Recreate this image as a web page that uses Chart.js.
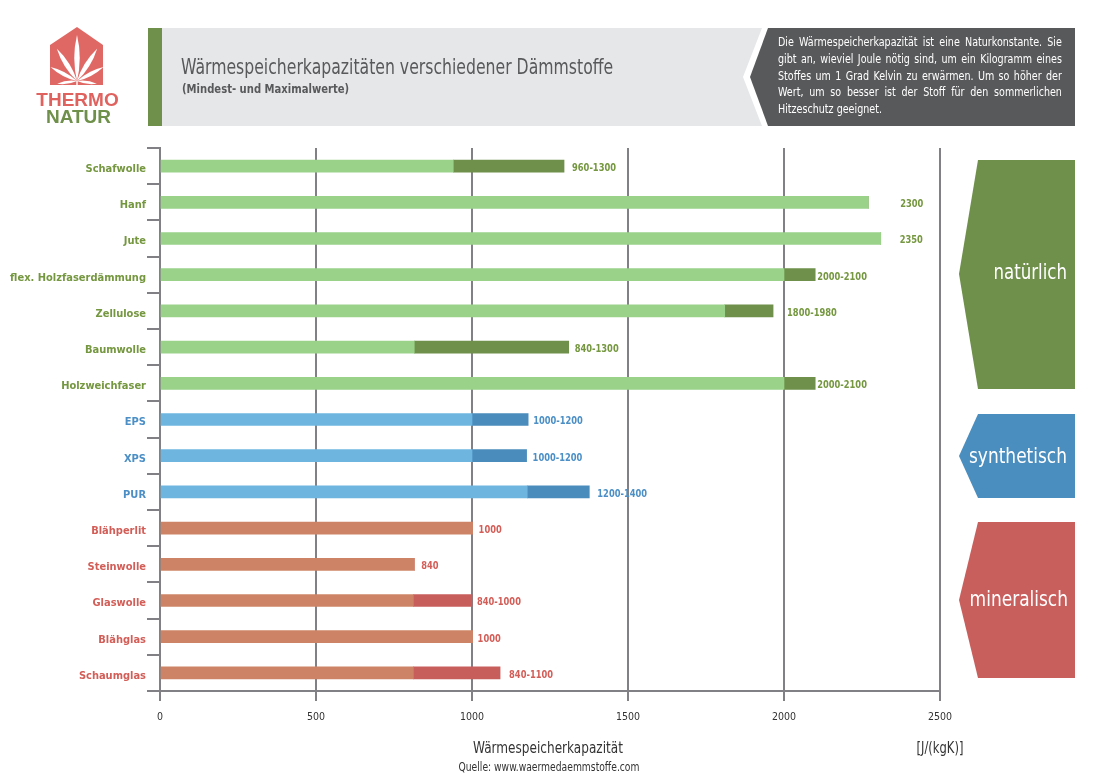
<!DOCTYPE html>
<html>
<head>
<meta charset="utf-8">
<script src="https://cdn.jsdelivr.net/npm/chart.js@4/dist/chart.umd.min.js"></script>
<style>
  html, body { margin: 0; padding: 0; background: #fff; }
  #wrap { position: relative; width: 1104px; height: 781px; overflow: hidden; font-family: "DejaVu Sans Condensed", "DejaVu Sans", sans-serif; }
  #chart { position: absolute; left: 0; top: 0; }
  svg.deco { position: absolute; left: 0; top: 0; }
  .t { position: absolute; white-space: nowrap; }
  .l { transform-origin: left top; }
  .r { transform-origin: right top; }
  .c { transform-origin: center top; }
  .info div { text-align: justify; text-align-last: justify; white-space: nowrap; height: 16.8px; }
  .info div.last { text-align-last: left; }
</style>
</head>
<body>
<div id="wrap">
  <canvas id="chart" width="1104" height="781"></canvas>
  <svg class="deco" width="1104" height="781" xmlns="http://www.w3.org/2000/svg">
    <!-- logo -->
    <polygon points="50,45 77,27 103,45 103,85 50,85" fill="#e06864"/>
    <g transform="translate(77,81)" fill="#ffffff">
      <path d="M0,0 Q5.5,-23 0,-46 Q-5.5,-23 0,0Z"/>
      <path d="M0,0 Q5,-19 0,-38 Q-5,-19 0,0Z" transform="rotate(32)"/>
      <path d="M0,0 Q5,-19 0,-38 Q-5,-19 0,0Z" transform="rotate(-32)"/>
      <path d="M0,0 Q4,-15 0,-30 Q-4,-15 0,0Z" transform="rotate(62)"/>
      <path d="M0,0 Q4,-15 0,-30 Q-4,-15 0,0Z" transform="rotate(-62)"/>
      <path d="M0,0 Q3,-10 0,-20 Q-3,-10 0,0Z" transform="rotate(98)"/>
      <path d="M0,0 Q3,-10 0,-20 Q-3,-10 0,0Z" transform="rotate(-98)"/>
      <rect x="-0.7" y="0" width="1.4" height="4"/>
    </g>
    <!-- header -->
    <rect x="148" y="28" width="14" height="98" fill="#6e904a"/>
    <polygon points="162,28 762,28 743,77 762,126 162,126" fill="#e6e7e8"/>
    <polygon points="768,28 1075,28 1075,126 768,126 750,77" fill="#58595b"/>
    <!-- group tags -->
    <polygon points="978,160 1075,160 1075,389 978,389 959,274" fill="#6e904a"/>
    <polygon points="978,414 1075,414 1075,498 978,498 959,456" fill="#4a8dbf"/>
    <polygon points="978,522 1075,522 1075,678 978,678 959,600" fill="#c95f5d"/>
  </svg>
  <div class="t" style="left:0;width:155px;top:89px;text-align:center;font-family:'Liberation Sans',Arial,sans-serif;font-weight:bold;font-size:19px;line-height:22px;color:#e0625e;">THERMO</div>
  <div class="t" style="left:0;width:157px;top:106px;text-align:center;font-family:'Liberation Sans',Arial,sans-serif;font-weight:bold;font-size:19px;line-height:22px;color:#6e904a;">NATUR</div>

  <div class="t l" style="left:181px;top:55px;font-size:21px;line-height:24px;color:#58595b;transform:scaleX(0.83);">Wärmespeicherkapazitäten verschiedener Dämmstoffe</div>
  <div class="t l" style="left:182px;top:82px;font-size:12px;line-height:14px;font-weight:bold;color:#58595b;transform:scaleX(0.93);">(Mindest- und Maximalwerte)</div>

  <div class="t l info" style="left:778px;top:34px;width:334px;font-size:12.5px;line-height:16.8px;color:#ffffff;transform:scaleX(0.85);">
    <div>Die Wärmespeicherkapazität ist eine Naturkonstante. Sie</div>
    <div>gibt an, wieviel Joule nötig sind, um ein Kilogramm eines</div>
    <div>Stoffes um 1 Grad Kelvin zu erwärmen. Um so höher der</div>
    <div>Wert, um so besser ist der Stoff für den sommerlichen</div>
    <div class="last">Hitzeschutz geeignet.</div>
  </div>

  <div class="t r" style="left:947px;width:120px;top:259px;text-align:right;font-size:21px;line-height:26px;color:#fff;transform:scaleX(0.88);">natürlich</div>
  <div class="t r" style="left:947px;width:120px;top:443px;text-align:right;font-size:21px;line-height:26px;color:#fff;transform:scaleX(0.9);">synthetisch</div>
  <div class="t r" style="left:948px;width:120px;top:586px;text-align:right;font-size:21px;line-height:26px;color:#fff;transform:scaleX(0.9);">mineralisch</div>

  <div class="t c" style="left:398px;width:300px;top:738px;text-align:center;font-size:16px;line-height:20px;color:#333;transform:scaleX(0.84);">Wärmespeicherkapazität</div>
  <div class="t c" style="left:890px;width:100px;top:738px;text-align:center;font-size:16px;line-height:20px;color:#333;transform:scaleX(0.8);">[J/(kgK)]</div>
  <div class="t c" style="left:399px;width:300px;top:760px;text-align:center;font-size:11.5px;line-height:14px;color:#333;transform:scaleX(0.89);">Quelle: www.waermedaemmstoffe.com</div>
</div>
<script>
// ---- data ----
const categories = ['Schafwolle', 'Hanf', 'Jute', 'flex. Holzfaserdämmung', 'Zellulose', 'Baumwolle', 'Holzweichfaser',
  'EPS', 'XPS', 'PUR',
  'Blähperlit', 'Steinwolle', 'Glaswolle', 'Blähglas', 'Schaumglas'];
const groupOf = [0, 0, 0, 0, 0, 0, 0, 1, 1, 1, 2, 2, 2, 2, 2];
const minValues = [940, 2270, 2310, 2000, 1810, 815, 2000, 1000, 1000, 1177, 1002, 815, 812, 1002, 812];
const maxValues = [1295, 2270, 2310, 2100, 1965, 1310, 2100, 1180, 1175, 1376, 1002, 815, 1000, 1002, 1090];
const valueLabels = ['960-1300', '2300', '2350', '2000-2100', '1800-1980', '840-1300', '2000-2100',
  '1000-1200', '1000-1200', '1200-1400', '1000', '840', '840-1000', '1000', '840-1100'];
const xTicks = [0, 500, 1000, 1500, 2000, 2500];

// ---- styles ----
const lightColors = ['#9ad289', '#6eb6e0', '#cd8466'];
const darkColors = ['#6e904a', '#4a8dbd', '#c75e5c'];
const textColors = ['#74973f', '#4b8fc6', '#d35e58'];
const labelOffsets = [8, 32, 19, 2, 14, 6, 2, 5, 6, 8, 6, 7, 5, 5, 9];
const grey = '#818185';
const FONT = '"DejaVu Sans Condensed", "DejaVu Sans", sans-serif';

const valueLabelPlugin = {
  id: 'valueLabels',
  afterDatasetsDraw(chart) {
    const ctx = chart.ctx;
    const xs = chart.scales.x, ys = chart.scales.y;
    const sx = 0.84;
    ctx.save();
    ctx.font = 'bold 11px ' + FONT;
    ctx.textAlign = 'left';
    ctx.textBaseline = 'middle';
    valueLabels.forEach((txt, i) => {
      const x = xs.getPixelForValue(maxValues[i]) + labelOffsets[i];
      const y = ys.getPixelForValue(i) + 2;
      ctx.save();
      ctx.translate(x, y);
      ctx.scale(sx, 1);
      ctx.fillStyle = textColors[groupOf[i]];
      ctx.fillText(txt, 0, 0);
      ctx.restore();
    });
    ctx.restore();
  }
};

new Chart(document.getElementById('chart'), {
  type: 'bar',
  data: {
    labels: categories,
    datasets: [
      {
        label: 'Mindestwert',
        data: minValues,
        backgroundColor: groupOf.map(g => lightColors[g]),
        borderWidth: 0,
        barThickness: 12,
        stack: 's'
      },
      {
        label: 'Maximalwert',
        data: maxValues.map((v, i) => v - minValues[i]),
        backgroundColor: groupOf.map(g => darkColors[g]),
        borderWidth: 0,
        barThickness: 12,
        stack: 's'
      }
    ]
  },
  options: {
    indexAxis: 'y',
    responsive: false,
    animation: false,
    devicePixelRatio: 1,
    layout: { padding: { top: 148, right: 164, left: 0, bottom: 0 } },
    plugins: { legend: { display: false }, tooltip: { enabled: false }, title: { display: false } },
    scales: {
      x: {
        type: 'linear',
        stacked: true,
        min: 0,
        max: 2500,
        afterBuildTicks: s => { s.ticks = xTicks.map(v => ({ value: v })); },
        afterFit: s => { s.height = 90; },
        ticks: { color: '#333', font: { family: FONT, size: 10.5 }, padding: 10, callback: v => String(v) },
        grid: { color: grey, lineWidth: 2, tickLength: 10, drawTicks: true },
        border: { display: true, color: grey, width: 2 }
      },
      y: {
        type: 'category',
        stacked: true,
        afterFit: s => { s.width = 160; },
        ticks: {
          color: ctx => textColors[groupOf[ctx.index]],
          font: { family: FONT, size: 11, weight: 'bold' },
          padding: 1,
          labelOffset: 3
        },
        grid: { offset: true, drawOnChartArea: false, drawTicks: true, tickLength: 13, color: grey, lineWidth: 2 },
        border: { display: true, color: grey, width: 2 }
      }
    }
  },
  plugins: [valueLabelPlugin]
});
</script>
</body>
</html>
